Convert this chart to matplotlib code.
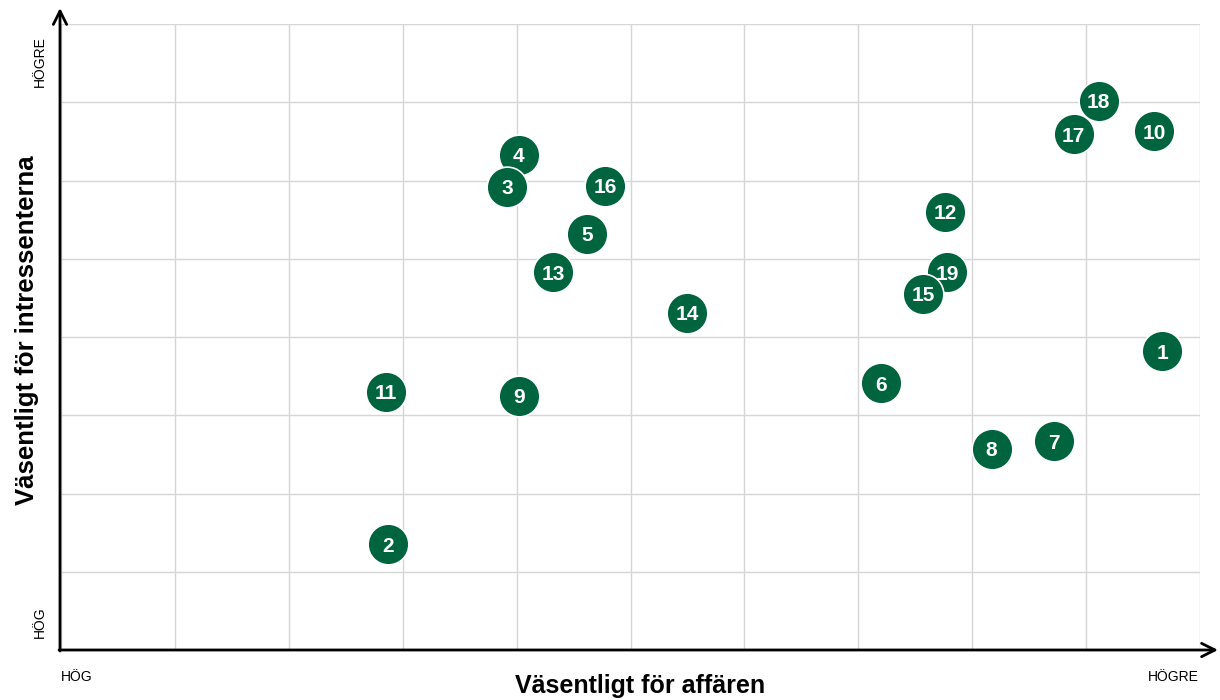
import matplotlib
matplotlib.use("Agg")
import matplotlib.pyplot as plt

# punkter: nummer, affär (x), intressenter (y)
ids = [1, 2, 3, 4, 5, 6, 7, 8, 9, 10, 11, 12, 13, 14, 15, 16, 17, 18, 19]
business = [9.67, 2.87, 3.92, 4.02, 4.62, 7.20, 8.72, 8.17, 4.02, 9.60,
            2.85, 7.76, 4.32, 5.50, 7.57, 4.78, 8.89, 9.11, 7.78]
stakeholders = [3.82, 1.35, 5.92, 6.33, 5.32, 3.41, 2.67, 2.57, 3.25, 6.63,
                3.30, 5.60, 4.83, 4.31, 4.55, 5.93, 6.59, 7.02, 4.83]

x_label = "Väsentligt för affären"
y_label = "Väsentligt för intressenterna"
low_txt, high_txt = "HÖG", "HÖGRE"

green = "#00653e"
plt.rcParams["font.family"] = ["Liberation Sans", "DejaVu Sans"]

W, H = 1220, 700
fig = plt.figure(figsize=(W / 100, H / 100), dpi=100)
ax = fig.add_axes([61 / W, 50 / H, (1200 - 61) / W, (650 - 24) / H])
ax.set_xlim(0, 10)
ax.set_ylim(0, 8)
ax.set_xticks(range(11))
ax.set_yticks(range(9))
ax.grid(True, color="#d6d6d6", linewidth=1)
ax.tick_params(length=0, labelbottom=False, labelleft=False)
for s in ax.spines.values():
    s.set_visible(False)
ax.set_axisbelow(True)

# axlar med pilar
arrow = dict(arrowstyle="->", lw=2, color="black", mutation_scale=24,
             shrinkA=0, shrinkB=0)
ax.annotate("", xy=(1218 / W, 50 / H), xytext=(59 / W, 50 / H),
            xycoords=fig.transFigure, textcoords=fig.transFigure,
            arrowprops=arrow)
ax.annotate("", xy=(60 / W, 1 - 8 / H), xytext=(60 / W, 49 / H),
            xycoords=fig.transFigure, textcoords=fig.transFigure,
            arrowprops=arrow)

# cirklar, högsta nummer ritas först
n = len(ids)
for i in reversed(range(n)):
    z = 3 + (n - i) * 0.01
    ax.scatter(business[i], stakeholders[i], s=860, color=green,
               edgecolors="white", linewidths=1.2, zorder=z, clip_on=False)
    ax.text(business[i], stakeholders[i], str(ids[i]), color="white",
            fontsize=15, fontweight="bold", ha="center", va="center_baseline",
            zorder=z + 0.005)

fig.text(640 / W, 1 - 686 / H, x_label, fontsize=18, fontweight="bold",
         ha="center", va="center")
fig.text(27 / W, 1 - 330 / H, y_label, fontsize=18.5, fontweight="bold",
         ha="center", va="center", rotation=90)
fig.text(77 / W, 1 - 677 / H, low_txt, fontsize=10, ha="center", va="center")
fig.text(1173 / W, 1 - 677 / H, high_txt, fontsize=10, ha="center", va="center")
fig.text(40 / W, 1 - 622 / H, low_txt, fontsize=10, ha="center", va="center",
         rotation=90)
fig.text(40 / W, 1 - 62 / H, high_txt, fontsize=10, ha="center", va="center",
         rotation=90)

fig.savefig("out.png", dpi=100, facecolor="white")
